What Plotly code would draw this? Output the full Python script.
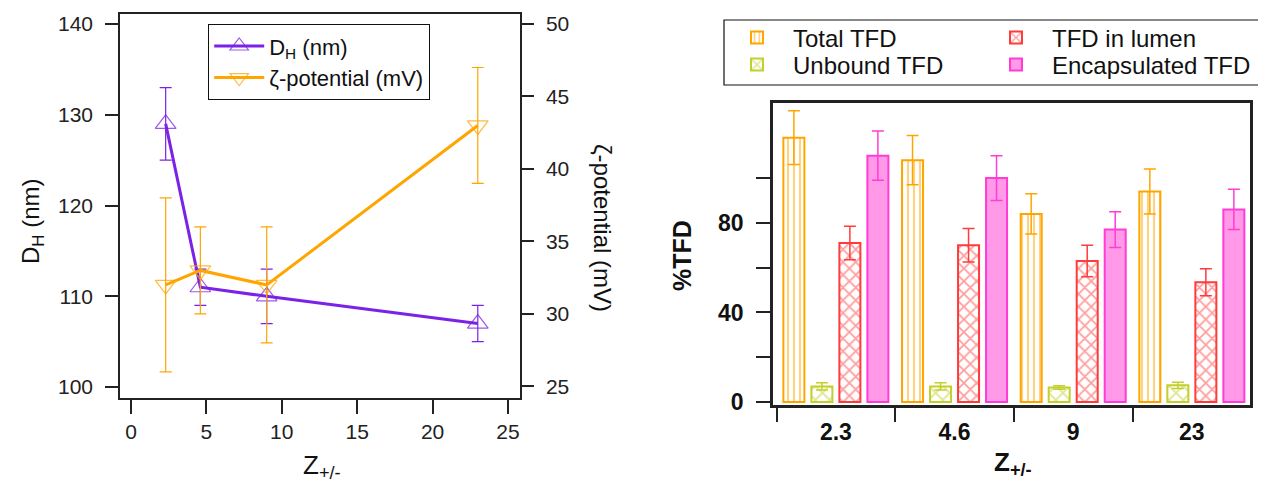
import plotly.graph_objects as go

# ---------------- data: left chart ----------------
z_vals = [2.3, 4.6, 9, 23]
dh_nm = [129, 111, 110, 107]
dh_err = [4, 2, 3, 2]
zeta_mv = [32, 33, 32, 43]
zeta_err = [6, 3, 4, 4]

# ---------------- data: right chart ----------------
z_cats = ["2.3", "4.6", "9", "23"]
total_tfd = [118, 108, 84, 94]
total_err = [12, 11, 9, 10]
unbound_tfd = [7, 7, 6.5, 7.5]
unbound_err = [1.6, 1.6, 0.8, 1.4]
lumen_tfd = [71, 70, 63, 53.5]
lumen_err = [7.5, 7.5, 7, 6]
encap_tfd = [110, 100, 77, 86]
encap_err = [11, 10, 8, 9]
pct_major_ticks = [0, 40, 80]
pct_minor_ticks = [20, 60, 100]

# page is 1266x487 but the html body has an 8px margin
OFF = 8
FW, FH = 1266 - OFF, 487 - OFF
FONT = "Arial, Liberation Sans, sans-serif"
PURPLE = "#7B22E6"
ORANGE = "#FFA500"
GREEN = "#C3D02C"
RED = "#FF3B3B"
PINK_FILL = "#FF99E8"
PINK_LINE = "#FF3DD6"


def px_x(p):
    return (p - OFF) / FW


def px_y(p):
    return 1 - (p - OFF) / FH


fig = go.Figure()

# zeta potential (right axis)
fig.add_trace(go.Scatter(
    x=z_vals, y=zeta_mv, name="ζ-potential (mV)", xaxis="x", yaxis="y2",
    mode="lines+markers",
    line=dict(color=ORANGE, width=3),
    marker=dict(symbol="triangle-down-open", size=18, color="rgba(255,165,0,0.75)",
                line=dict(width=1.2)),
    error_y=dict(type="data", array=zeta_err, color=ORANGE, thickness=1.2, width=6),
    legend="legend", legendrank=2,
))
# DH (left axis)
fig.add_trace(go.Scatter(
    x=z_vals, y=dh_nm, name="D<sub>H</sub> (nm)", xaxis="x", yaxis="y",
    mode="lines+markers",
    line=dict(color=PURPLE, width=3),
    marker=dict(symbol="triangle-up-open", size=18, color="rgba(123,34,230,0.75)",
                line=dict(width=1.2)),
    error_y=dict(type="data", array=dh_err, color=PURPLE, thickness=1.2, width=6),
    legend="legend", legendrank=1,
))

# bars  (name, values, errors, fill, line colour, pattern colour, pattern, pattern size, legend)
bar_specs = [
    ("Total TFD", total_tfd, total_err, "white", ORANGE, ORANGE, "|", 6, "legend2"),
    ("Unbound TFD", unbound_tfd, unbound_err, "white", GREEN, GREEN, "x", 10, "legend3"),
    ("TFD in lumen", lumen_tfd, lumen_err, "white", RED, RED, "x", 9, "legend4"),
    ("Encapsulated TFD", encap_tfd, encap_err, PINK_FILL, PINK_LINE, None, "", 0, "legend5"),
]
for name, vals, errs, bg, line_c, fg, shape, psize, leg in bar_specs:
    marker = dict(color=bg, line=dict(color=line_c, width=2))
    if shape:
        marker["pattern"] = dict(shape=shape, fgcolor=fg, bgcolor="white", size=psize,
                                 solidity=0.35)
    fig.add_trace(go.Bar(
        x=z_cats, y=vals, name=name, xaxis="x2", yaxis="y3",
        marker=marker,
        error_y=dict(type="data", array=errs, color=line_c, thickness=1.5, width=6),
        legend=leg,
    ))

axis_font = dict(family=FONT, size=21, color="#222")
bold_font = dict(family=FONT, size=23, color="#111", weight="bold")
leg_font = dict(family=FONT, size=24, color="#111")


def small_legend(x_px, y_px):
    return dict(x=px_x(x_px), y=px_y(y_px), xanchor="left", yanchor="middle",
                bgcolor="rgba(0,0,0,0)", borderwidth=0, font=leg_font,
                itemwidth=62, tracegroupgap=0)


def label(text, x, y, size, angle=0, bold=False):
    f = dict(family=FONT, size=size, color="#111")
    if bold:
        f["weight"] = "bold"
    return dict(text=text, x=px_x(x), y=px_y(y), xref="paper", yref="paper",
                xanchor="center", yanchor="middle", textangle=angle,
                showarrow=False, font=f)


fig.update_layout(
    width=FW, height=FH,
    margin=dict(l=0, r=0, t=0, b=0),
    paper_bgcolor="white", plot_bgcolor="white",
    font=dict(family=FONT, color="#111"),
    barmode="group", bargap=0.056, bargroupgap=0.25,
    xaxis=dict(
        domain=[px_x(120), px_x(520)], range=[-0.73, 25.8],
        tickvals=[0, 5, 10, 15, 20, 25], ticks="outside", ticklen=14, tickwidth=1.5,
        tickcolor="#222", showline=True, linecolor="#222", linewidth=1.5, mirror=True,
        showgrid=False, zeroline=False, tickfont=axis_font, anchor="y", automargin=False,
        ticklabelstandoff=0,
    ),
    yaxis=dict(
        domain=[px_y(398), px_y(14)], range=[98.8, 141.1],
        tickvals=[100, 110, 120, 130, 140], ticks="outside", ticklen=13, tickwidth=1.5,
        tickcolor="#222", showline=True, linecolor="#222", linewidth=1.5,
        showgrid=False, zeroline=False, tickfont=axis_font, anchor="x", automargin=False,
        ticklabelstandoff=8,
    ),
    yaxis2=dict(
        overlaying="y", side="right", range=[24.2, 50.69],
        tickvals=[25, 30, 35, 40, 45, 50], ticks="outside", ticklen=12, tickwidth=1.5,
        tickcolor="#222", showline=True, linecolor="#222", linewidth=1.5,
        showgrid=False, zeroline=False, tickfont=axis_font, anchor="x", automargin=False,
        ticklabelstandoff=8,
    ),
    xaxis2=dict(
        domain=[px_x(773), px_x(1250)], range=[-0.53, 3.49], type="category",
        tickson="boundaries", ticks="outside", ticklen=14, tickwidth=2, tickcolor="#222",
        showline=True, linecolor="#222", linewidth=2.5, mirror=True,
        showgrid=False, zeroline=False, tickfont=bold_font, anchor="y3", automargin=False,
        ticklabelstandoff=5,
    ),
    yaxis3=dict(
        domain=[px_y(405), px_y(103)], range=[-1.3, 133.5],
        tickvals=pct_major_ticks,
        ticks="outside", ticklen=14, tickwidth=2, tickcolor="#222",
        minor=dict(tickvals=pct_minor_ticks, ticks="outside", ticklen=14, tickwidth=2,
                   tickcolor="#222", showgrid=False),
        showline=True, linecolor="#222", linewidth=2.5, mirror=True,
        showgrid=False, zeroline=False, tickfont=bold_font, anchor="x2", automargin=False,
        ticklabelstandoff=8,
    ),
    legend=dict(
        x=px_x(208), y=px_y(24), xanchor="left", yanchor="top",
        bordercolor="#111", borderwidth=1.2, bgcolor="white",
        font=dict(family=FONT, size=22, color="#111"), tracegroupgap=0, itemwidth=50,
    ),
    legend2=small_legend(721, 38),
    legend3=small_legend(721, 65),
    legend4=small_legend(980, 38),
    legend5=small_legend(980, 65),
    shapes=[dict(type="rect", xref="paper", yref="paper",
                 x0=px_x(724), x1=px_x(1260), y0=px_y(85), y1=px_y(20),
                 line=dict(color="#111", width=1.2))],
    annotations=[
        label("D<sub>H</sub> (nm)", 32, 222, 24, angle=-90),
        label("ζ-potential (mV)", 603, 228, 24, angle=90),
        label("Z<sub>+/-</sub>", 322, 466, 26),
        label("%TFD", 682, 256, 25, angle=-90, bold=True),
        label("Z<sub>+/-</sub>", 1013, 463, 26, bold=True),
    ],
)

fig.write_html("out.html")
